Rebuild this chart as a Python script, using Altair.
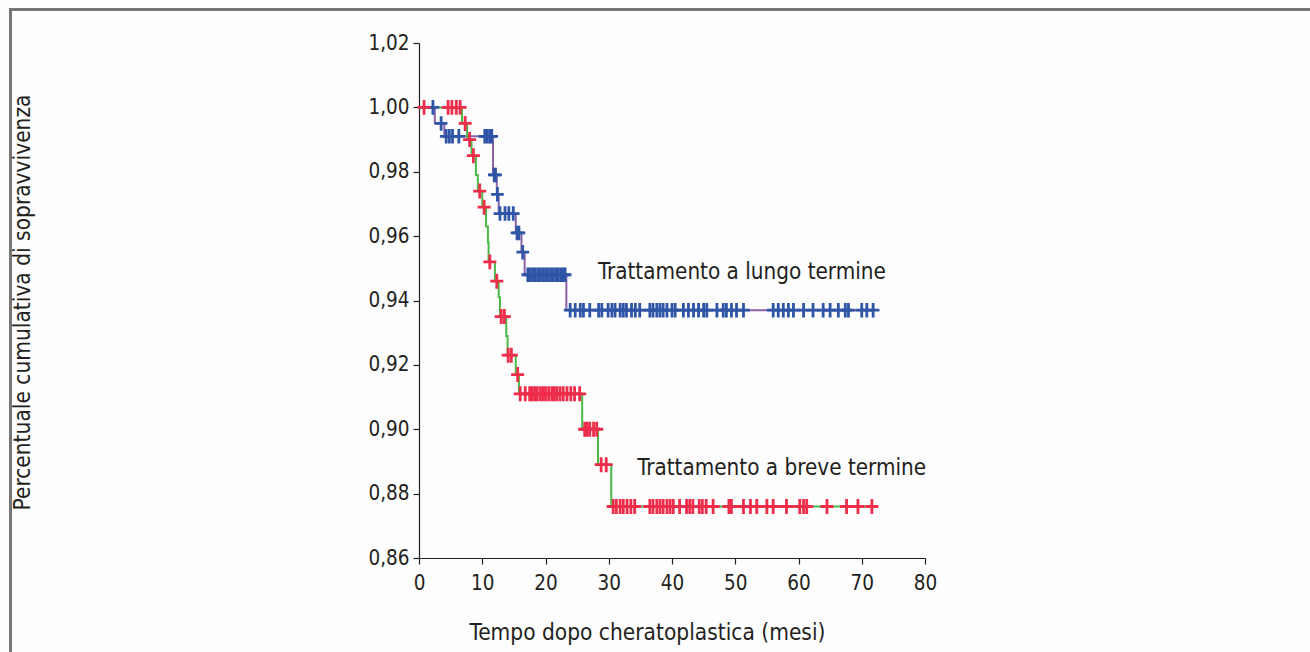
import altair as alt
import pandas as pd

# Kaplan-Meier step points (time in months, cumulative survival)
long_step_t = [0, 2.5, 4.0, 11.7, 12.3, 12.6, 15.3, 16.2, 16.7, 23.3, 72.0]
long_step_s = [1.000, 0.995, 0.991, 0.979, 0.973, 0.967, 0.961, 0.955, 0.948, 0.937, 0.937]

short_step_t = [0, 6.8, 7.6, 8.3, 9.0, 9.3, 10.0, 10.6, 10.9, 11.0, 12.0, 12.6, 12.8, 13.8, 14.0,
                15.3, 15.8, 25.8, 28.3, 30.4, 72.3]
short_step_s = [1.000, 0.995, 0.990, 0.985, 0.979, 0.974, 0.969, 0.963, 0.958, 0.952, 0.946, 0.941,
                0.935, 0.929, 0.923, 0.917, 0.911, 0.900, 0.889, 0.876, 0.876]

# censored observations (months)
long_cens_t = [2.2, 3.5, 4.3, 4.8, 5.3, 6.3, 10.4, 10.8, 11.2, 11.5, 11.9, 12.1, 12.4,
               12.8, 13.6, 14.2, 14.9, 15.5, 15.8, 16.4,
               17.2, 17.6, 18.0, 18.4, 18.8, 19.2, 19.6, 20.0, 20.4, 20.8, 21.2, 21.6, 22.0, 22.4, 22.8, 23.1,
               23.9, 24.7, 25.5, 26.0, 27.0, 28.4, 28.9, 29.9, 30.5, 31.0, 31.8, 32.3, 32.8, 33.6, 34.2,
               34.9, 36.5, 37.0, 37.6, 38.1, 38.6, 39.2, 40.0, 40.5, 41.8, 42.6, 43.4, 44.2, 45.0, 45.5,
               47.1, 48.1, 48.6, 49.4, 50.2, 51.3, 56.0, 56.8, 57.6, 58.4, 59.2, 60.8, 62.3, 63.9, 65.0,
               66.3, 67.4, 67.9, 70.0, 70.8, 71.8]
short_cens_t = [0.8, 4.6, 5.2, 5.9, 6.5, 7.3, 8.0, 8.6, 9.6, 10.3, 11.2, 12.3, 13.0, 13.5, 14.1, 14.6,
                15.6, 16.0, 16.8, 17.5, 17.9, 18.3, 18.7, 19.2, 19.6, 20.0, 20.5, 21.0, 21.4, 21.8,
                22.3, 22.8, 23.4, 24.0, 24.6, 25.4, 26.2, 26.6, 27.0, 27.6, 28.1, 28.8, 29.6,
                30.7, 31.2, 31.8, 32.3, 32.9, 33.5, 34.1, 36.5, 37.0, 37.6, 38.1, 38.6, 39.2, 39.7,
                40.2, 41.2, 42.3, 42.8, 43.3, 44.3, 44.8, 45.4, 46.5, 49.0, 49.4, 51.3, 52.4, 53.4,
                55.0, 56.0, 58.1, 60.2, 60.8, 61.3, 64.5, 67.6, 69.4, 71.6]

x_ticks = [0, 10, 20, 30, 40, 50, 60, 70, 80]
y_ticks = [0.86, 0.88, 0.90, 0.92, 0.94, 0.96, 0.98, 1.00, 1.02]

labels = ["Trattamento a lungo termine", "Trattamento a breve termine"]
label_t = [28.3, 34.5]
label_s = [0.9489, 0.888]


def level_at(step_t, step_s, t):
    s = step_s[0]
    for tt, ss in zip(step_t, step_s):
        if tt <= t:
            s = ss
    return s


long_steps = pd.DataFrame({"t": long_step_t, "s": long_step_s})
short_steps = pd.DataFrame({"t": short_step_t, "s": short_step_s})
long_cens = pd.DataFrame({"t": long_cens_t,
                          "s": [level_at(long_step_t, long_step_s, t) for t in long_cens_t]})
short_cens = pd.DataFrame({"t": short_cens_t,
                           "s": [level_at(short_step_t, short_step_s, t) for t in short_cens_t]})
lab = pd.DataFrame({"t": label_t, "s": label_s, "text": labels})

FONT = "DejaVu Sans Condensed, sans-serif"
W, H = 506, 515
L, T = 419, 43

xs = alt.Scale(domain=[0, 80], nice=False, zero=False)
ys = alt.Scale(domain=[0.86, 1.02], nice=False, zero=False)

xenc = alt.X("t:Q", scale=xs, axis=alt.Axis(
    values=x_ticks, grid=False, title="Tempo dopo cheratoplastica (mesi)",
    titleX=228, titleY=74, titleBaseline="middle", titleAlign="center",
    labelPadding=9, tickSize=6, labelFlush=False))
yenc = alt.Y("s:Q", scale=ys, axis=alt.Axis(
    values=y_ticks, grid=False, title="Percentuale cumulativa di sopravvivenza",
    labelExpr="replace(format(datum.value, '.2f'), '.', ',')",
    titleX=-397, titleY=259, titleBaseline="middle", titleAlign="center", titleAngle=270,
    labelPadding=4, tickSize=6, labelFlush=False))

plus = "M-1,0H1M0,-1.15V1.15"

long_line = alt.Chart(long_steps).mark_line(interpolate="step-after", color="#8a62a8", strokeWidth=2).encode(x=xenc, y=yenc)
short_line = alt.Chart(short_steps).mark_line(interpolate="step-after", color="#4cb848", strokeWidth=2).encode(x="t:Q", y="s:Q")
long_pts = alt.Chart(long_cens).mark_point(shape=plus, filled=False, color="#2f55a6", strokeWidth=2.8,
                                            size=160, opacity=1).encode(x="t:Q", y="s:Q")
short_pts = alt.Chart(short_cens).mark_point(shape=plus, filled=False, color="#ee2d4b", strokeWidth=2.8,
                                              size=170, opacity=1).encode(x="t:Q", y="s:Q")
texts = alt.Chart(lab).mark_text(align="left", baseline="middle", font=FONT, fontSize=22.3,
                                 color="#231f20").encode(x="t:Q", y="s:Q", text="text:N")

frame_top = alt.Chart(pd.DataFrame({"a": [0]})).mark_rule(color="#767676", strokeWidth=3).encode(
    x=alt.value(9 - L), x2=alt.value(1310 - L), y=alt.value(9.5 - T))
frame_left = alt.Chart(pd.DataFrame({"a": [0]})).mark_rule(color="#767676", strokeWidth=3).encode(
    x=alt.value(10.5 - L), y=alt.value(8 - T), y2=alt.value(652 - T))

chart = alt.layer(long_line, short_line, long_pts, short_pts, texts, frame_top, frame_left).properties(
    width=W, height=H,
    autosize=alt.AutoSizeParams(type="none"),
    padding={"left": L, "top": T, "right": 1310 - L - W, "bottom": 652 - T - H},
    background="#fdfdfd",
).configure_view(stroke=None).configure_axis(
    domainColor="#231f20", tickColor="#231f20", labelColor="#231f20", titleColor="#231f20",
    labelFont=FONT, titleFont=FONT, labelFontSize=20.5, titleFontSize=22.5,
    labelFontWeight="normal", titleFontWeight="normal", domainWidth=1.2, tickWidth=1.2,
)

chart.save("out.html", embed_options={"renderer": "svg", "actions": False})
